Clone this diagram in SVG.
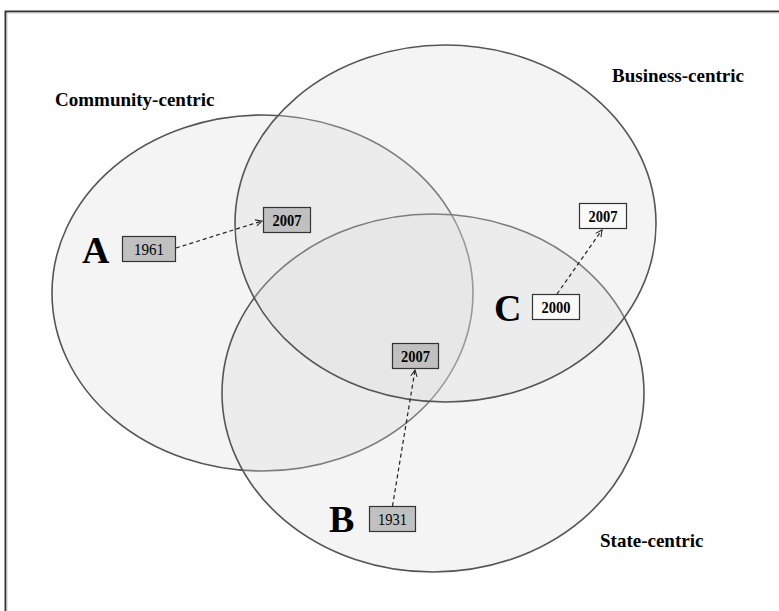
<svg xmlns="http://www.w3.org/2000/svg" width="779" height="611" viewBox="0 0 779 611">
<style>
.ell{fill:#dadada;fill-opacity:0.3;stroke:#555;stroke-width:1.6}
.title{font-family:"Liberation Serif","Times New Roman",serif;font-weight:bold;font-size:19px;fill:#000}
.letter{font-family:"Liberation Serif","Times New Roman",serif;font-weight:bold;font-size:38px;fill:#000}
.num{font-family:"Liberation Serif","Times New Roman",serif;font-size:17px;fill:#000;text-anchor:middle}
.b{font-weight:bold}
.gray{fill:#c0c0c0;stroke:#333;stroke-width:1.2}
.white{fill:#fafafa;stroke:#333;stroke-width:1.2}
.conn{fill:none;stroke:#222;stroke-width:1.2;stroke-dasharray:4 3;marker-end:url(#arr)}
</style>
<defs>
<marker id="arr" viewBox="0 0 10 10" refX="9" refY="5" markerWidth="8" markerHeight="8" markerUnits="userSpaceOnUse" orient="auto">
<path d="M1,1 L9,5 L1,9" fill="none" stroke="#222" stroke-width="1.3"/>
</marker>
</defs>
<rect width="779" height="611" fill="#fff"/>
<g id="frame">
<path d="M5.5,611 L5.5,11.5 L779,11.5" fill="none" stroke="#333" stroke-width="2"/>
<path d="M7,611 L7,13 L779,13" fill="none" stroke="#ccc" stroke-width="1"/>
</g>
<g id="community-centric">
<ellipse class="ell" cx="262.5" cy="293" rx="210.5" ry="178"/>
<text class="title" x="55" y="106">Community-centric</text>
</g>
<g id="state-centric">
<ellipse class="ell" cx="433" cy="393" rx="211" ry="179"/>
<text class="title" x="600" y="547">State-centric</text>
</g>
<g id="business-centric">
<ellipse class="ell" cx="445.5" cy="223.5" rx="210.5" ry="178.5"/>
<text class="title" x="612" y="82">Business-centric</text>
</g>
<g id="node-A">
<text class="letter" x="82" y="263">A</text>
<rect class="gray" x="122.5" y="236.5" width="53" height="25"/>
<text class="num" x="149" y="255" textLength="30" lengthAdjust="spacingAndGlyphs">1961</text>
</g>
<g id="node-A-2007">
<rect class="gray" x="263.5" y="207.5" width="47" height="25"/>
<text class="num b" x="287" y="226" textLength="29" lengthAdjust="spacingAndGlyphs">2007</text>
</g>
<g id="node-C">
<text class="letter" x="494" y="321">C</text>
<rect class="white" x="532.5" y="294.5" width="47" height="25"/>
<text class="num b" x="556" y="313" textLength="29" lengthAdjust="spacingAndGlyphs">2000</text>
</g>
<g id="node-C-2007">
<rect class="white" x="579.5" y="203.5" width="47" height="25"/>
<text class="num b" x="603" y="222" textLength="29" lengthAdjust="spacingAndGlyphs">2007</text>
</g>
<g id="node-B">
<text class="letter" x="329" y="532">B</text>
<rect class="gray" x="369.5" y="506.5" width="46" height="25"/>
<text class="num" x="392.5" y="525" textLength="29" lengthAdjust="spacingAndGlyphs">1931</text>
</g>
<g id="node-B-2007">
<rect class="gray" x="392.5" y="343.5" width="46" height="25"/>
<text class="num b" x="415.5" y="362" textLength="29" lengthAdjust="spacingAndGlyphs">2007</text>
</g>
<g id="connectors">
<path class="conn" d="M176,248 L262,221"/>
<path class="conn" d="M557,294 L602,230"/>
<path class="conn" d="M392.5,506 L415,370"/>
</g>
</svg>
